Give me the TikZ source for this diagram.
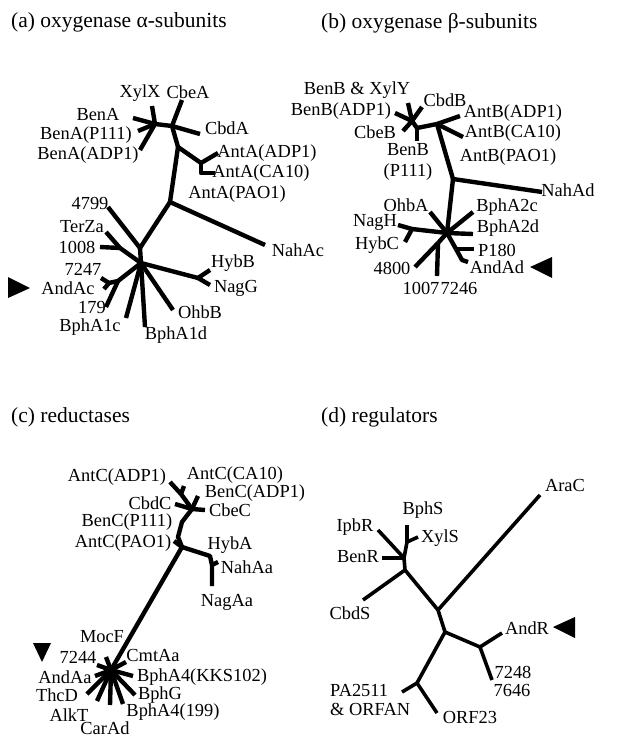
\documentclass[tikz,border=0pt]{standalone}
\usepackage{fontspec}
\setmainfont{Liberation Serif}
\begin{document}
\begin{tikzpicture}[x=1pt,y=-1pt]
\tikzset{
  br/.style={line width=4.4pt,line join=round},
  brd/.style={line width=3.6pt,line join=round},
  lab/.style={inner sep=0pt,font=\fontsize{18.4}{20}\selectfont},
  ttl/.style={inner sep=0pt,anchor=west,font=\fontsize{21.5}{24}\selectfont},
}
\useasboundingbox (0,0) rectangle (627,738);

% ---------------- titles
\node[ttl] (ta) at (11,22) {(a) oxygenase α-subunits};
\node[ttl] (tb) at (321,23) {(b) oxygenase β-subunits};
\node[ttl] (tc) at (11,417) {(c) reductases};
\node[ttl] (td) at (321,417) {(d) regulators};

% ---------------- tree (a)
\coordinate (a1) at (155,124);
\coordinate (axylx) at (152,106);
\coordinate (abena) at (133,118);
\coordinate (abenap) at (138,131);
\coordinate (abenaadp) at (140,150);
\coordinate (a2) at (172,126);
\coordinate (acbea) at (182,100);
\coordinate (acbda) at (200,134);
\coordinate (a3) at (178,147);
\coordinate (a4) at (201,163);
\coordinate (aantaadp) at (218,153);
\coordinate (a5) at (201,173);
\coordinate (aantaca) at (215,173);
\coordinate (a6) at (170,202);
\coordinate (anahac) at (265,245);
\coordinate (aj) at (140,248);
\coordinate (ac) at (141,263);
\coordinate (a4799) at (108,207);
\coordinate (at) at (120,248);
\coordinate (aterza) at (106,232);
\coordinate (a1008) at (100,247);
\coordinate (ah) at (198,278);
\coordinate (ahybb) at (210,270);
\coordinate (anagg) at (210,285);
\coordinate (aohbb) at (173,310);
\coordinate (abpha1d) at (145,327);
\coordinate (abpha1c) at (126,318);
\coordinate (ak1) at (118,281);
\coordinate (a179) at (106,307);
\coordinate (ak2) at (109,283);
\coordinate (a7247) at (101,278);
\coordinate (aandac) at (104,289);

\draw[br] (a1) -- (axylx);
\draw[br] (a1) -- (abena);
\draw[br] (a1) -- (abenap);
\draw[br] (a1) -- (abenaadp);
\draw[br] (a1) -- (a2);
\draw[br] (a2) -- (acbea);
\draw[br] (a2) -- (acbda);
\draw[br] (a2) -- (a3);
\draw[br] (a3) -- (a4);
\draw[br] (a4) -- (aantaadp);
\draw[br] (a4) -- (a5) -- (aantaca);
\draw[br] (a3) -- (a6);
\draw[br] (a6) -- (anahac);
\draw[br] (a6) -- (aj);
\draw[br] (aj) -- (a4799);
\draw[br] (aj) -- (ac);
\draw[br] (ac) -- (at);
\draw[br] (at) -- (aterza);
\draw[br] (at) -- (a1008);
\draw[br] (ac) -- (ah);
\draw[br] (ah) -- (ahybb);
\draw[br] (ah) -- (anagg);
\draw[br] (ac) -- (aohbb);
\draw[br] (ac) -- (abpha1d);
\draw[br] (ac) -- (abpha1c);
\draw[br] (ac) -- (ak1);
\draw[br] (ak1) -- (a179);
\draw[br] (ak1) -- (ak2);
\draw[br] (ak2) -- (a7247);
\draw[br] (ak2) -- (aandac);

\node[lab] (lxylx) at (140,93) {XylX};
\node[lab] (lcbea) at (188,92) {CbeA};
\node[lab] (lbena) at (98,115) {BenA};
\node[lab] (lbenap) at (86,135) {BenA(P111)};
\node[lab] (lbenaadp) at (88,155) {BenA(ADP1)};
\node[lab] (lcbda) at (227,128) {CbdA};
\node[lab] (lantaadp) at (267,153) {AntA(ADP1)};
\node[lab] (lantaca) at (261,173) {AntA(CA10)};
\node[lab] (lantapao) at (237,194) {AntA(PAO1)};
\node[lab] (lnahac) at (298,250) {NahAc};
\node[lab] (l4799) at (90,203) {4799};
\node[lab] (lterza) at (82,227) {TerZa};
\node[lab] (l1008) at (77,247) {1008};
\node[lab] (l7247) at (83,269) {7247};
\node[lab] (landac) at (68,288) {AndAc};
\node[lab] (l179) at (92,307) {179};
\node[lab] (lbpha1c) at (90,327) {BphA1c};
\node[lab] (lhybb) at (233,263) {HybB};
\node[lab] (lnagg) at (236,288) {NagG};
\node[lab] (lohbb) at (200,312) {OhbB};
\node[lab] (lbpha1d) at (176,335) {BphA1d};
\fill (8,277) -- (8,298) -- (30,288) -- cycle;

% ---------------- tree (b)
\coordinate (b1) at (412,121);
\coordinate (bbx) at (408,103);
\coordinate (bbadp) at (395,113);
\coordinate (bcbdb) at (422,107);
\coordinate (bcbeb) at (403,131);
\coordinate (b2) at (417,128);
\coordinate (bbp) at (417,141);
\coordinate (b3) at (437,124);
\coordinate (bantbadp) at (460,116);
\coordinate (bantbca) at (463,137);
\coordinate (b4) at (453,179);
\coordinate (bnahad) at (542,192);
\coordinate (bc) at (447,233);
\coordinate (bohba) at (430,212);
\coordinate (bbpha2c) at (473,212);
\coordinate (bbpha2d) at (473,234);
\coordinate (bhn) at (412,229);
\coordinate (bnagh) at (398,225);
\coordinate (bhybc) at (405,242);
\coordinate (b4800) at (415,267);
\coordinate (bjn) at (438,243);
\coordinate (b1007) at (437,276);
\coordinate (bp1) at (456,249);
\coordinate (bp180) at (474,249);
\coordinate (bp2) at (462,260);
\coordinate (bandad) at (468,262);

\draw[br] (b1) -- (bbx);
\draw[br] (b1) -- (bbadp);
\draw[br] (b1) -- (bcbdb);
\draw[br] (b1) -- (bcbeb);
\draw[br] (b1) -- (b2);
\draw[br] (b2) -- (bbp);
\draw[br] (b2) -- (b3);
\draw[br] (b3) -- (bantbadp);
\draw[br] (b3) -- (bantbca);
\draw[br] (b3) -- (b4);
\draw[br] (b4) -- (bnahad);
\draw[br] (b4) -- (bc);
\draw[br] (bc) -- (bohba);
\draw[br] (bc) -- (bbpha2c);
\draw[br] (bc) -- (bbpha2d);
\draw[br] (bc) -- (bhn);
\draw[br] (bhn) -- (bnagh);
\draw[br] (bhn) -- (bhybc);
\draw[br] (bc) -- (bjn);
\draw[br] (bjn) -- (b4800);
\draw[br] (bjn) -- (b1007);
\draw[br] (bc) -- (bp1);
\draw[br] (bp1) -- (bp180);
\draw[br] (bp1) -- (bp2) -- (bandad);

\node[lab] (lbbx) at (357,90) {BenB \& XylY};
\node[lab] (lbbadp) at (341,111) {BenB(ADP1)};
\node[lab] (lcbdb) at (445,100) {CbdB};
\node[lab] (lcbeb) at (375,132) {CbeB};
\node[lab,align=center,font=\fontsize{18.4}{20.5}\selectfont] (lbbp) at (408,162) {BenB\\(P111)};
\node[lab] (lantbadp) at (513,113) {AntB(ADP1)};
\node[lab] (lantbca) at (513,133) {AntB(CA10)};
\node[lab] (lantbpao) at (508,157) {AntB(PAO1)};
\node[lab] (lnahad) at (568,190) {NahAd};
\node[lab] (lohba) at (406,205) {OhbA};
\node[lab] (lbpha2c) at (507,207) {BphA2c};
\node[lab] (lbpha2d) at (508,228) {BphA2d};
\node[lab] (lnagh) at (375,222) {NagH};
\node[lab] (lhybc) at (377,245) {HybC};
\node[lab] (l4800) at (392,268) {4800};
\node[lab] (l1007) at (421,288) {1007};
\node[lab] (l7246) at (459,288) {7246};
\node[lab] (lp180) at (497,250) {P180};
\node[lab] (landad) at (497,267) {AndAd};
\fill (530,267) -- (552,257) -- (552,278) -- cycle;

% ---------------- tree (c)
\coordinate (c1) at (192,509);
\coordinate (cta) at (181,494);
\coordinate (cantcadp) at (170,482);
\coordinate (cantcca) at (184,486);
\coordinate (ccbdc) at (175,504);
\coordinate (ccbec) at (205,510);
\coordinate (cbencadp) at (198,496);
\coordinate (cm1) at (182,522);
\coordinate (cm2) at (178,537);
\coordinate (c2) at (182,547);
\coordinate (cantcpao) at (174,541);
\coordinate (c3) at (210,556);
\coordinate (c4) at (212,565);
\coordinate (cnahaa) at (218,562);
\coordinate (cnagaa) at (212,586);
\coordinate (cc) at (111,670);
\coordinate (cmocf) at (106,657);
\coordinate (c7244) at (97,665);
\coordinate (ccmtaa) at (126,662);
\coordinate (ckks) at (133,676);
\coordinate (candaa) at (95,676);
\coordinate (cthcd) at (87,694);
\coordinate (cbphg) at (135,695);
\coordinate (calkt) at (97,701);
\coordinate (c199) at (123,704);
\coordinate (ccarad) at (110,705);

\draw[br] (c1) -- (cta) -- (cantcadp);
\draw[br] (cta) -- (cantcca);
\draw[br] (c1) -- (ccbdc);
\draw[br] (c1) -- (ccbec);
\draw[br] (c1) -- (cbencadp);
\draw[br] (c1) -- (cm1) -- (cm2) -- (c2);
\draw[br] (c2) -- (cantcpao);
\draw[br] (c2) -- (c3) -- (c4) -- (cnagaa);
\draw[br] (c4) -- (cnahaa);
\draw[br] (c2) -- (cc);
\draw[br] (cc) -- (cmocf);
\draw[br] (cc) -- (c7244);
\draw[br] (cc) -- (ccmtaa);
\draw[br] (cc) -- (ckks);
\draw[br] (cc) -- (candaa);
\draw[br] (cc) -- (cthcd);
\draw[br] (cc) -- (cbphg);
\draw[br] (cc) -- (calkt);
\draw[br] (cc) -- (c199);
\draw[br] (cc) -- (ccarad);

\node[lab] (lantcadp) at (117,477) {AntC(ADP1)};
\node[lab] (lantcca) at (235,475) {AntC(CA10)};
\node[lab] (lbencadp) at (255,493) {BenC(ADP1)};
\node[lab] (lcbdc) at (150,503) {CbdC};
\node[lab] (lcbec) at (230,510) {CbeC};
\node[lab] (lbencp) at (127,522) {BenC(P111)};
\node[lab] (lantcpao) at (123,543) {AntC(PAO1)};
\node[lab] (lhyba) at (230,545) {HybA};
\node[lab] (lnahaa) at (247,567) {NahAa};
\node[lab] (lnagaa) at (227,602) {NagAa};
\node[lab] (lmocf) at (102,637) {MocF};
\node[lab] (l7244) at (78,657) {7244};
\node[lab] (lcmtaa) at (153,655) {CmtAa};
\node[lab] (lkks) at (202,677) {BphA4(KKS102)};
\node[lab] (landaa) at (65,677) {AndAa};
\node[lab] (lthcd) at (57,695) {ThcD};
\node[lab] (lbphg) at (160,695) {BphG};
\node[lab] (lalkt) at (69,715) {AlkT};
\node[lab] (l199) at (173,712) {BphA4(199)};
\node[lab] (lcarad) at (105,728) {CarAd};
\fill (33,643) -- (51,643) -- (42,662) -- cycle;

% ---------------- tree (d)
\coordinate (dbphs) at (407,525);
\coordinate (d00) at (407,542);
\coordinate (dxyls) at (418,537);
\coordinate (dipbr) at (378,530);
\coordinate (dbenr) at (382,558);
\coordinate (d0) at (404,558);
\coordinate (d1) at (405,570);
\coordinate (dcbds) at (363,600);
\coordinate (d2) at (438,610);
\coordinate (darac) at (540,495);
\coordinate (d3) at (445,632);
\coordinate (d4) at (480,647);
\coordinate (dandr) at (502,633);
\coordinate (d7248) at (492,680);
\coordinate (d5) at (417,683);
\coordinate (dpa) at (402,692);
\coordinate (dorf) at (437,713);

\draw[brd] (dbphs) -- (d00) -- (d0);
\draw[brd] (d00) -- (dxyls);
\draw[brd] (dipbr) -- (d0);
\draw[brd] (dbenr) -- (d0);
\draw[brd] (d0) -- (d1);
\draw[brd] (d1) -- (dcbds);
\draw[brd] (d1) -- (d2);
\draw[brd] (d2) -- (darac);
\draw[brd] (d2) -- (d3);
\draw[brd] (d3) -- (d4);
\draw[brd] (d4) -- (dandr);
\draw[brd] (d4) -- (d7248);
\draw[brd] (d3) -- (d5);
\draw[brd] (d5) -- (dpa);
\draw[brd] (d5) -- (dorf);

\node[lab] (laraC) at (565,485) {AraC};
\node[lab] (lbphs) at (423,510) {BphS};
\node[lab] (lxyls) at (440,538) {XylS};
\node[lab] (lipbr) at (355,527) {IpbR};
\node[lab] (lbenr) at (358,557) {BenR};
\node[lab] (lcbds) at (350,613) {CbdS};
\node[lab] (landr) at (527,628) {AndR};
\node[lab] (l7248) at (513,672) {7248};
\node[lab] (l7646) at (512,690) {7646};
\node[lab,anchor=west] (lpa) at (330,690) {PA2511};
\node[lab,anchor=west] (lorfan) at (330,709) {\& ORFAN};
\node[lab] (lorf23) at (470,717) {ORF23};
\fill (553,627) -- (575,617) -- (575,638) -- cycle;
\end{tikzpicture}
\end{document}
